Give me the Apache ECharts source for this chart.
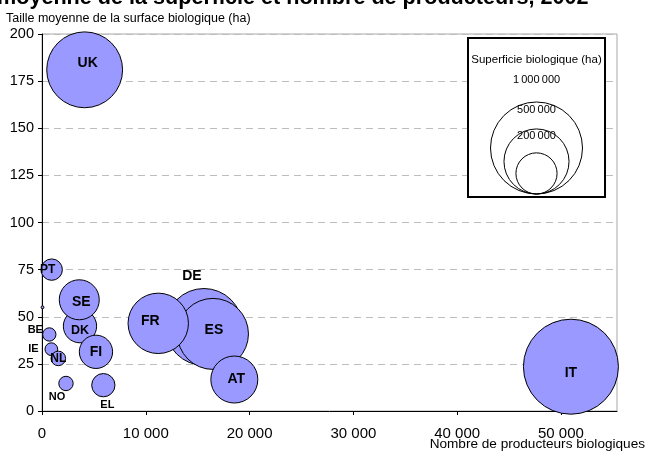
<!DOCTYPE html>
<html>
<head>
<meta charset="utf-8">
<script src="https://cdn.jsdelivr.net/npm/echarts@6/dist/echarts.min.js"></script>
<style>
html, body { margin: 0; padding: 0; background: #fff; }
#chart { width: 647px; height: 457px; }
</style>
</head>
<body>
<div id="chart"></div>
<script>
// pays (ordre UE, c'est aussi l'ordre de dessin des bulles)
var countries = ['BE', 'DK', 'DE', 'EL', 'ES', 'FR', 'IE', 'IT', 'LU', 'NL', 'AT', 'PT', 'FI', 'SE', 'UK', 'NO'];
// nombre de producteurs biologiques
var producers = [705, 3660, 15600, 5910, 16470, 11200, 900, 50960, 50, 1570, 18530, 935, 5200, 3590, 4110, 2310];
// taille moyenne de la surface biologique (ha)
var avgSize = [40.6, 45, 44.6, 13.7, 40.9, 46.5, 32.8, 23.5, 55, 27.9, 16.7, 75, 31.4, 59, 181, 14.6];
// superficie biologique (ha) -> taille de la bulle
var organicArea = [21000, 131000, 697000, 64000, 596000, 431000, 19000, 1066000, 1000, 25000, 261000, 54000, 131000, 189000, 680000, 24500];

var xTicks = [0, 10000, 20000, 30000, 40000, 50000];
var legendValues = [1000000, 500000, 200000];

// position des étiquettes (décalage par rapport au centre de la bulle)
var labelStyle = {
    UK: { offset: [3, -7], size: 14 },
    PT: { offset: [-4, 0], size: 12 },
    SE: { offset: [2, 2], size: 14 },
    DK: { offset: [0, 4], size: 12.5 },
    BE: { offset: [-14, -5], size: 11 },
    IE: { offset: [-18, 0], size: 11 },
    NL: { offset: [0, 0], size: 12 },
    FI: { offset: [0, 0], size: 14 },
    NO: { offset: [-9, 13], size: 11 },
    EL: { offset: [4, 20], size: 11 },
    FR: { offset: [-8, -2], size: 14 },
    DE: { offset: [-12, -51], size: 14 },
    ES: { offset: [1, -4], size: 14 },
    AT: { offset: [2, 0], size: 14 },
    IT: { offset: [0, 6], size: 14 },
    LU: null
};

var FONT = "'Liberation Sans', Arial, sans-serif";
var FULL_DIAM = 92; // diamètre d'une bulle de 1 000 000 ha

function bubbleSize(area) {
    return FULL_DIAM * Math.sqrt(area / 1000000);
}

function fmt(v) {
    return String(v).replace(/\B(?=(\d{3})+(?!\d))/g, ' ');
}

var data = countries.map(function (c, i) {
    var ls = labelStyle[c];
    return {
        name: c,
        value: [producers[i], avgSize[i], organicArea[i]],
        label: ls ? { show: true, offset: ls.offset, fontSize: ls.size } : { show: false }
    };
});

var myChart = echarts.init(document.getElementById('chart'));

// légende des tailles (cercles emboîtés)
var legCx = 536.5, legBottom = 194;
var legendLabelY = [80, 110, 136];
var legendGraphics = [{
    type: 'rect',
    shape: { x: 468, y: 38, width: 137, height: 159 },
    style: { fill: '#fff', stroke: '#000', lineWidth: 2 },
    z: 100
}, {
    type: 'text',
    x: 536.5, y: 60,
    style: { text: 'Superficie biologique (ha)', fill: '#000', font: '11.5px ' + FONT, textAlign: 'center', textVerticalAlign: 'middle' },
    z: 101
}];
legendValues.forEach(function (v, i) {
    var r = bubbleSize(v) / 2;
    legendGraphics.push({
        type: 'circle',
        shape: { cx: legCx, cy: legBottom - r, r: r },
        style: { fill: 'none', stroke: '#000', lineWidth: 1 },
        z: 101
    });
    legendGraphics.push({
        type: 'text',
        x: legCx, y: legendLabelY[i],
        style: { text: fmt(v).replace(/ /g, '\u202f'), fill: '#000', font: '11px ' + FONT, textAlign: 'center', textVerticalAlign: 'middle' },
        z: 102
    });
});

var option = {
    animation: false,
    textStyle: { fontFamily: FONT },
    grid: {
        left: 42,
        right: 30,
        top: 34,
        bottom: 46,
        show: true,
        borderColor: '#a8a8a8',
        borderWidth: 1
    },
    xAxis: {
        type: 'value',
        min: 0,
        max: 55400,
        interval: 10000,
        axisLine: { lineStyle: { color: '#000', width: 1 } },
        axisTick: { length: 4, customValues: xTicks, lineStyle: { color: '#000' } },
        axisLabel: {
            customValues: xTicks,
            margin: 15,
            color: '#000',
            fontSize: 15,
            formatter: function (v) { return fmt(v); }
        },
        splitLine: { show: false }
    },
    yAxis: {
        type: 'value',
        min: 0,
        max: 200,
        interval: 25,
        axisLine: { show: true, lineStyle: { color: '#000', width: 1 } },
        axisTick: { show: true, length: 4, lineStyle: { color: '#000' } },
        axisLabel: { margin: 8, color: '#000', fontSize: 14.5 },
        splitLine: { show: true, lineStyle: { color: '#bdbdbd', type: [7, 5], width: 1 } }
    },
    series: [{
        type: 'scatter',
        data: data,
        symbolSize: function (val) { return bubbleSize(val[2]); },
        itemStyle: { color: '#9999FF', borderColor: '#000', borderWidth: 1, opacity: 1 },
        label: {
            position: 'inside',
            color: '#000',
            fontWeight: 'bold',
            fontFamily: FONT,
            formatter: '{b}'
        },
        emphasis: { disabled: true }
    }],
    graphic: [{
        type: 'text',
        x: -3, y: -2,
        style: { text: 'moyenne de la superficie et nombre de producteurs, 2002', fill: '#000', font: 'bold 21.6px ' + FONT, textVerticalAlign: 'middle' }
    }, {
        type: 'text',
        x: 6, y: 18.5,
        style: { text: 'Taille moyenne de la surface biologique (ha)', fill: '#000', font: '12.5px ' + FONT, textVerticalAlign: 'middle' }
    }, {
        type: 'text',
        x: 645, y: 444,
        style: { text: 'Nombre de producteurs biologiques', fill: '#000', font: '13.6px ' + FONT, textAlign: 'right', textVerticalAlign: 'middle' }
    }].concat(legendGraphics)
};

myChart.setOption(option);
</script>
</body>
</html>
